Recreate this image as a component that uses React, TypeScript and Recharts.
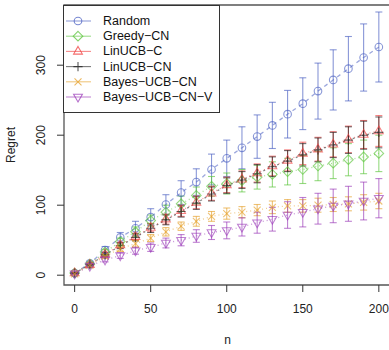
import React from "react";
import {
  ComposedChart,
  Line,
  XAxis,
  YAxis,
  ErrorBar,
  ReferenceArea,
  Label,
} from "recharts";

const nValues = [0, 10, 20, 30, 40, 50, 60, 70, 80, 90, 100, 110, 120, 130, 140, 150, 160, 170, 180, 190, 200];

const random = [3, 17, 36, 54, 67, 83, 101, 118, 133, 151, 167, 182, 198, 214, 230, 245, 263, 279, 295, 311, 326];
const randomErr = [1, 3, 5, 7, 10, 12, 14, 17, 19, 22, 26, 30, 31, 33, 34, 37, 40, 43, 46, 48, 50];

const greedy = [3, 16, 33, 48, 62, 78, 90, 102, 114, 127, 131, 135, 140, 144, 148, 151, 156, 160, 165, 169, 174];
const greedyErr = [1, 2, 4, 5, 7, 8, 10, 11, 12, 14, 15, 16, 17, 18, 19, 20, 21, 22, 23, 24, 26];

const linucbC = [3, 15, 30, 43, 55, 68, 80, 92, 104, 117, 129, 137, 146, 156, 164, 174, 180, 187, 194, 201, 206];
const linucbCErr = [1, 2, 3, 4, 5, 6, 7, 8, 9, 10, 11, 12, 13, 14, 15, 16, 17, 18, 19, 20, 22];

const linucbCN = [3, 15, 29, 42, 54, 67, 79, 91, 103, 116, 128, 136, 145, 155, 163, 172, 179, 186, 193, 200, 204];
const linucbCNErr = [1, 2, 3, 4, 5, 6, 7, 8, 9, 10, 11, 12, 13, 14, 15, 16, 17, 18, 19, 20, 22];

const bayes = [2, 14, 27, 38, 45, 53, 62, 70, 77, 84, 88, 90, 93, 97, 99, 99, 100, 101, 102, 104, 106];
const bayesErr = [1, 2, 3, 4, 5, 5, 6, 6, 7, 7, 8, 8, 8, 9, 9, 9, 10, 10, 10, 11, 11];

const bayesV = [2, 13, 22, 28, 35, 40, 46, 50, 56, 61, 64, 69, 75, 80, 86, 90, 95, 99, 102, 106, 110];
const bayesVErr = [1, 2, 3, 4, 5, 6, 7, 8, 9, 10, 12, 13, 15, 17, 19, 21, 22, 24, 25, 27, 28];

const xTicks = [0, 50, 100, 150, 200];
const yTicks = [0, 100, 200, 300];

const data = nValues.map((n, i) => ({
  n,
  random: random[i],
  randomErr: randomErr[i],
  greedy: greedy[i],
  greedyErr: greedyErr[i],
  linucbC: linucbC[i],
  linucbCErr: linucbCErr[i],
  linucbCN: linucbCN[i],
  linucbCNErr: linucbCNErr[i],
  bayes: bayes[i],
  bayesErr: bayesErr[i],
  bayesV: bayesV[i],
  bayesVErr: bayesVErr[i],
}));

const FONT = "'Liberation Sans', Arial, Helvetica, sans-serif";

type Shape = "circle" | "diamond" | "triangle" | "plus" | "cross" | "down";

interface SeriesConfig {
  key: string;
  name: string;
  color: string;
  shape: Shape;
  dash: string;
}

const series: SeriesConfig[] = [
  { key: "random", name: "Random", color: "#4a5fc1", shape: "circle", dash: "4 4" },
  { key: "greedy", name: "Greedy\u2212CN", color: "#5cc43c", shape: "diamond", dash: "1 3" },
  { key: "linucbC", name: "LinUCB\u2212C", color: "#f03c3c", shape: "triangle", dash: "1 3" },
  { key: "linucbCN", name: "LinUCB\u2212CN", color: "#222222", shape: "plus", dash: "2 3" },
  { key: "bayes", name: "Bayes\u2212UCB\u2212CN", color: "#e5a02a", shape: "cross", dash: "1 3" },
  { key: "bayesV", name: "Bayes\u2212UCB\u2212CN\u2212V", color: "#9b3cb8", shape: "down", dash: "1 3" },
];

function marker(shape: Shape, cx: number, cy: number, color: string, opacity: number) {
  const common = { fill: "none", stroke: color, strokeWidth: 1.1, strokeOpacity: opacity };
  switch (shape) {
    case "circle":
      return <circle cx={cx} cy={cy} r={3.8} {...common} />;
    case "diamond":
      return (
        <polygon
          points={`${cx},${cy - 4.8} ${cx + 4.8},${cy} ${cx},${cy + 4.8} ${cx - 4.8},${cy}`}
          {...common}
        />
      );
    case "triangle":
      return (
        <polygon
          points={`${cx},${cy - 5} ${cx + 4.4},${cy + 2.7} ${cx - 4.4},${cy + 2.7}`}
          {...common}
        />
      );
    case "down":
      return (
        <polygon
          points={`${cx},${cy + 5} ${cx + 4.4},${cy - 2.7} ${cx - 4.4},${cy - 2.7}`}
          {...common}
        />
      );
    case "plus":
      return (
        <path d={`M${cx - 4.6},${cy}H${cx + 4.6}M${cx},${cy - 4.6}V${cy + 4.6}`} {...common} />
      );
    case "cross":
      return (
        <path
          d={`M${cx - 3.5},${cy - 3.5}L${cx + 3.5},${cy + 3.5}M${cx - 3.5},${cy + 3.5}L${cx + 3.5},${cy - 3.5}`}
          {...common}
        />
      );
  }
}

const YTick = (props: any) => {
  const { y, payload } = props;
  return (
    <text
      x={41}
      y={y}
      transform={`rotate(-90 41 ${y})`}
      textAnchor="middle"
      dominantBaseline="central"
      fontSize={12}
      fontFamily={FONT}
      fill="#222"
    >
      {payload.value}
    </text>
  );
};

const XTick = (props: any) => {
  const { x, payload } = props;
  return (
    <text
      x={x}
      y={309}
      textAnchor="middle"
      dominantBaseline="central"
      fontSize={12}
      fontFamily={FONT}
      fill="#222"
    >
      {payload.value}
    </text>
  );
};

function LegendBox() {
  return (
    <div
      style={{
        position: "absolute",
        left: 63,
        top: 5,
        width: 155,
        height: 106,
        background: "#fff",
        border: "1px solid #333",
        fontFamily: FONT,
        fontSize: 12.5,
        color: "#111",
      }}
    >
      <svg width={155} height={106} style={{ position: "absolute", left: 0, top: 0 }}>
        {series.map((s, i) => {
          const cy = 15 + i * 15.2;
          return (
            <g key={s.key}>
              <line x1={2} x2={27} y1={cy} y2={cy} stroke={s.color} strokeOpacity={0.6} strokeWidth={1.1} />
              {marker(s.shape, 14, cy, s.color, 0.75)}
              <text
                x={39}
                y={cy}
                dominantBaseline="central"
                fontSize={12.5}
                fontFamily={FONT}
                fill="#111"
              >
                {s.name}
              </text>
            </g>
          );
        })}
      </svg>
    </div>
  );
}

export default function App() {
  return (
    <div style={{ position: "absolute", left: 0, top: 0, width: 389, height: 350, overflow: "hidden", background: "#fff" }}>
      <ComposedChart
        width={400}
        height={350}
        data={data}
        margin={{ top: 5, right: 9, left: 0, bottom: 0 }}
      >
        <XAxis
          dataKey="n"
          type="number"
          domain={[-7, 208]}
          ticks={xTicks}
          height={65}
          axisLine={false}
          tickSize={7}
          tickLine={{ stroke: "#333" }}
          tick={<XTick />}
          allowDataOverflow
        >
          <Label
            content={() => (
              <text x={227.5} y={340} textAnchor="middle" dominantBaseline="central" fontSize={12} fontFamily={FONT} fill="#222">
                n
              </text>
            )}
          />
        </XAxis>
        <YAxis
          type="number"
          domain={[-14, 386]}
          ticks={yTicks}
          width={64}
          axisLine={false}
          tickSize={7}
          tickLine={{ stroke: "#333" }}
          tick={<YTick />}
          allowDataOverflow
        >
          <Label
            content={() => (
              <text
                x={11}
                y={145}
                transform="rotate(-90 11 145)"
                textAnchor="middle"
                dominantBaseline="central"
                fontSize={12}
                fontFamily={FONT}
                fill="#222"
              >
                Regret
              </text>
            )}
          />
        </YAxis>
        <ReferenceArea x1={-7} x2={208} y1={-14} y2={386} fill="none" stroke="#555" strokeWidth={1.3} />
        {series.map((s) => (
          <Line
            key={s.key}
            dataKey={s.key}
            name={s.name}
            stroke={s.color}
            strokeOpacity={0.55}
            strokeWidth={1.3}
            strokeDasharray={s.dash}
            isAnimationActive={false}
            activeDot={false}
            dot={(p: any) => (
              <g key={`${s.key}-${p.index}`}>{marker(s.shape, p.cx, p.cy, s.color, 0.65)}</g>
            )}
          >
            <ErrorBar
              dataKey={`${s.key}Err`}
              direction="y"
              width={3.5}
              stroke={s.color}
              strokeOpacity={0.65}
              strokeWidth={1.1}
              isAnimationActive={false}
            />
          </Line>
        ))}
      </ComposedChart>
      <LegendBox />
    </div>
  );
}
